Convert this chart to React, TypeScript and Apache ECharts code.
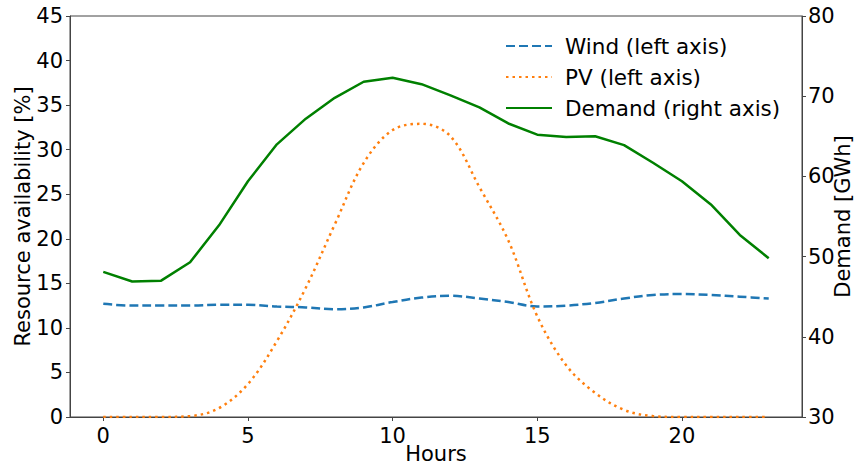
import React, { useEffect, useRef } from "react";
import * as echarts from "echarts";

const hours = Array.from({ length: 24 }, (_, i) => i);
const windValues = [12.7, 12.5, 12.5, 12.5, 12.6, 12.6, 12.4, 12.3, 12.1, 12.3, 12.9, 13.4, 13.6, 13.3, 12.9, 12.4, 12.5, 12.8, 13.3, 13.7, 13.8, 13.7, 13.5, 13.3];
const pvValues = [0, 0, 0, 0.1, 1.0, 3.7, 8.5, 14.5, 21.6, 28.5, 32.2, 32.9, 31.5, 25.8, 19.8, 11.3, 5.8, 2.7, 0.8, 0.1, 0, 0, 0, 0];
const demandValues = [48.1, 46.9, 47.0, 49.3, 53.9, 59.4, 64.0, 67.2, 69.8, 71.8, 72.3, 71.5, 70.1, 68.6, 66.6, 65.2, 64.9, 65.0, 63.9, 61.7, 59.4, 56.5, 52.7, 49.8];
const xTicks = [0, 5, 10, 15, 20];
const seriesNames = ["Wind (left axis)", "PV (left axis)", "Demand (right axis)"];

const FONT = "DejaVu Sans";

export default function App() {
  const ref = useRef<HTMLDivElement>(null);
  useEffect(() => {
    if (!ref.current) return;
    const chart = echarts.init(ref.current, null, { renderer: "svg" });
    const axisLine = { show: true, onZero: false, lineStyle: { color: "#444", width: 1 } };
    const axisTick = { show: true, length: 4, lineStyle: { color: "#444", width: 1 } };
    const labelStyle = { color: "#000", fontSize: 21, fontFamily: FONT };
    chart.setOption({
      animation: false,
      backgroundColor: "#fff",
      textStyle: { fontFamily: FONT },
      grid: {
        left: 70, right: 54, top: 16, bottom: 48,
        outerBoundsMode: "none",
        containLabel: false,
        show: true, borderColor: "#444", borderWidth: 1, backgroundColor: "transparent",
      },
      legend: {
        orient: "vertical",
        left: 500,
        top: 30,
        itemWidth: 46,
        itemHeight: 14,
        itemGap: 9,
        itemStyle: { opacity: 0 },
        textStyle: { color: "#000", fontSize: 21.5, fontFamily: FONT, padding: [0, 0, 0, 8] },
        data: seriesNames,
      },
      xAxis: {
        type: "value",
        min: -1.15,
        max: 24.15,
        name: "Hours",
        nameLocation: "middle",
        nameGap: 26,
        nameMoveOverlap: false,
        nameTextStyle: labelStyle,
        axisLine,
        axisTick: { ...axisTick, customValues: xTicks },
        axisLabel: { ...labelStyle, margin: 8, customValues: xTicks },
        splitLine: { show: false },
      },
      yAxis: [
        {
          type: "value",
          min: 0,
          max: 45,
          interval: 5,
          position: "left",
          name: "Resource availability [%]",
          nameLocation: "middle",
          nameGap: 37,
          nameMoveOverlap: false,
          nameTextStyle: labelStyle,
          axisLine,
          axisTick,
          axisLabel: { ...labelStyle, margin: 7 },
          splitLine: { show: false },
        },
        {
          type: "value",
          min: 30,
          max: 80,
          interval: 10,
          position: "right",
          name: "Demand [GWh]",
          nameLocation: "middle",
          nameGap: 30,
          nameMoveOverlap: false,
          nameTextStyle: labelStyle,
          axisLine,
          axisTick,
          axisLabel: { ...labelStyle, margin: 6 },
          splitLine: { show: false },
        },
      ],
      series: [
        {
          name: seriesNames[0],
          type: "line",
          yAxisIndex: 0,
          data: hours.map((h, i) => [h, windValues[i]]),
          symbol: "none",
          smooth: 0.35,
          lineStyle: { color: "#1f77b4", width: 2.5, type: [9, 4] },
          itemStyle: { color: "#1f77b4" },
        },
        {
          name: seriesNames[1],
          type: "line",
          yAxisIndex: 0,
          data: hours.map((h, i) => [h, pvValues[i]]),
          symbol: "none",
          smooth: 0.35,
          lineStyle: { color: "#ff7f0e", width: 2.5, type: [2.5, 4] },
          itemStyle: { color: "#ff7f0e" },
        },
        {
          name: seriesNames[2],
          type: "line",
          yAxisIndex: 1,
          data: hours.map((h, i) => [h, demandValues[i]]),
          symbol: "none",
          lineStyle: { color: "#008000", width: 2.5 },
          itemStyle: { color: "#008000" },
        },
      ],
    });
    return () => chart.dispose();
  }, []);
  return <div ref={ref} style={{ width: 856, height: 465, position: "absolute", left: 0, top: 0 }} />;
}
